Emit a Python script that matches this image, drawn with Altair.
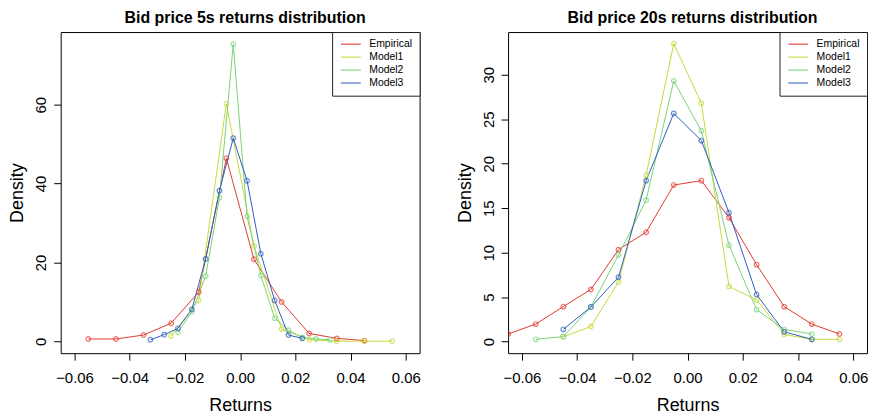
import altair as alt
import pandas as pd

series_names = ["Empirical", "Model1", "Model2", "Model3"]
series_colors = ["#E3392E", "#C6DA3A", "#78D478", "#2F5EBF"]

x_ticks = [-0.06, -0.04, -0.02, 0.0, 0.02, 0.04, 0.06]
y_ticks_5s = [0, 20, 40, 60]
y_ticks_20s = [0, 5, 10, 15, 20, 25, 30]

# ---- 5s returns ----
emp5_x = [-0.055, -0.045, -0.035, -0.025, -0.015, -0.005, 0.005, 0.015, 0.025, 0.035, 0.045]
emp5_y = [0.6, 0.6, 1.6, 4.6, 12.5, 46.4, 20.8, 10.0, 2.0, 0.75, 0.2]
m1_5_x = [-0.025, -0.015, -0.005, 0.005, 0.015, 0.025, 0.035, 0.045, 0.055]
m1_5_y = [1.4, 10.4, 60.2, 24.2, 3.1, 0.4, 0.05, 0.05, 0.05]
m2_5_x = [-0.0225, -0.0175, -0.0125, -0.0075, -0.0025, 0.0025, 0.0075, 0.0125, 0.0175, 0.0225, 0.0275, 0.0325]
m2_5_y = [2.3, 7.5, 16.5, 36.4, 75.3, 31.7, 16.7, 5.9, 2.8, 1.0, 0.6, 0.4]
m3_5_x = [-0.0325, -0.0275, -0.0225, -0.0175, -0.0125, -0.0075, -0.0025, 0.0025, 0.0075, 0.0125, 0.0175, 0.0225]
m3_5_y = [0.4, 1.7, 3.3, 8.1, 20.9, 38.2, 51.5, 40.7, 22.2, 10.4, 1.6, 0.75]

# ---- 20s returns ----
emp20_x = [-0.065, -0.055, -0.045, -0.035, -0.025, -0.015, -0.005, 0.005, 0.015, 0.025, 0.035, 0.045, 0.055]
emp20_y = [0.86, 1.97, 3.94, 5.87, 10.34, 12.3, 17.6, 18.1, 13.94, 8.66, 3.94, 1.97, 0.86]
m1_20_x = [-0.045, -0.035, -0.025, -0.015, -0.005, 0.005, 0.015, 0.025, 0.035, 0.045, 0.055]
m1_20_y = [0.55, 1.7, 6.7, 18.7, 33.5, 26.8, 6.2, 4.7, 0.8, 0.26, 0.26]
m2_20_x = [-0.055, -0.045, -0.035, -0.025, -0.015, -0.005, 0.005, 0.015, 0.025, 0.035, 0.045]
m2_20_y = [0.26, 0.56, 3.9, 9.74, 15.9, 29.3, 23.7, 10.85, 3.6, 1.38, 0.86]
m3_20_x = [-0.045, -0.035, -0.025, -0.015, -0.005, 0.005, 0.015, 0.025, 0.035, 0.045]
m3_20_y = [1.38, 3.9, 7.25, 18.1, 25.65, 22.6, 14.5, 5.3, 1.1, 0.26]


def build(parts):
    rows = []
    for name, xs, ys in parts:
        for xv, yv in zip(xs, ys):
            rows.append({"x": xv, "y": yv, "series": name})
    return pd.DataFrame(rows)


df5 = build([("Empirical", emp5_x, emp5_y), ("Model1", m1_5_x, m1_5_y),
             ("Model2", m2_5_x, m2_5_y), ("Model3", m3_5_x, m3_5_y)])
df20 = build([("Empirical", emp20_x, emp20_y), ("Model1", m1_20_x, m1_20_y),
              ("Model2", m2_20_x, m2_20_y), ("Model3", m3_20_x, m3_20_y)])

FONT = "Liberation Sans"


def panel(df, title, ydomain, yticks):
    color = alt.Color(
        "series:N",
        scale=alt.Scale(domain=series_names, range=series_colors),
        legend=alt.Legend(
            title=None, orient="top-right", offset=0,
            symbolType="M-2.5,0H2.5", symbolSize=64, symbolStrokeWidth=1.5,
            symbolOffset=6.6, labelOffset=13.2,
            labelFont=FONT, labelFontSize=10.5, labelColor="black",
            padding=7, rowPadding=2,
            strokeColor="#222222", fillColor="white", cornerRadius=0,
        ),
    )
    base = alt.Chart(df).encode(
        x=alt.X("x:Q", scale=alt.Scale(domain=[-0.065, 0.065], nice=False, zero=False),
                axis=alt.Axis(values=x_ticks, format=".2f", title="Returns")),
        y=alt.Y("y:Q", scale=alt.Scale(domain=ydomain, nice=False, zero=False),
                axis=alt.Axis(values=yticks, title="Density")),
        color=color,
        order=alt.Order("x:Q"),
    )
    lines = base.mark_line(strokeWidth=1, clip=True)
    points = base.mark_point(shape="circle", filled=False, size=22, strokeWidth=1.2, clip=True)
    return alt.layer(lines, points).properties(
        width=361, height=323,
        title=alt.TitleParams(title, font=FONT, fontSize=16, fontWeight="bold",
                              anchor="middle", offset=6, dx=5, color="black"),
    )


left = panel(df5, "Bid price 5s returns distribution", [-3.0, 78.4], y_ticks_5s)
right = panel(df20, "Bid price 20s returns distribution", [-1.3, 34.8], y_ticks_20s)

chart = (
    alt.hconcat(left, right, spacing=34)
    .resolve_legend(color="independent")
    .properties(padding=0, background="white")
    .configure_view(stroke="black", strokeWidth=1)
    .configure_axis(
        labelFont=FONT, titleFont=FONT, labelColor="black", titleColor="black",
        tickColor="black", domain=False, grid=False, labelFontSize=15,
        titleFontSize=18, titleFontWeight="normal", tickSize=7,
    )
    .configure_axisX(labelPadding=10, titlePadding=12)
    .configure_axisY(labelAngle=270, labelAlign="center", labelBaseline="bottom",
                     labelPadding=5, titlePadding=7)
)

chart.save("out.html", embed_options={"renderer": "svg", "actions": False})
